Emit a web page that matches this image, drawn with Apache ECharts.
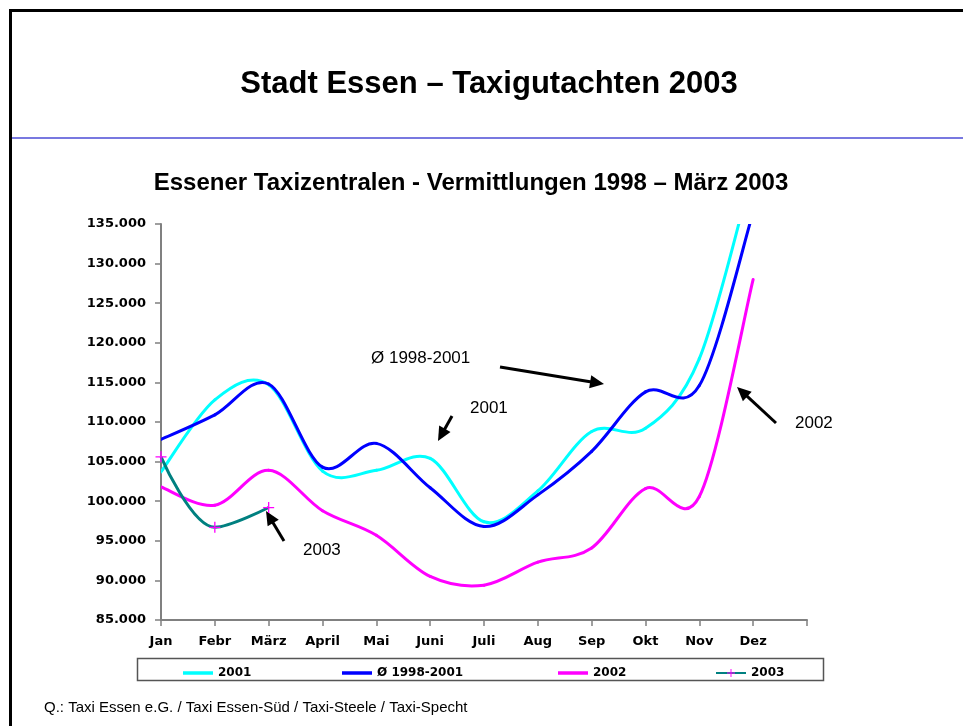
<!DOCTYPE html>
<html><head><meta charset="utf-8">
<script src="https://cdn.jsdelivr.net/npm/echarts@6/dist/echarts.min.js"></script>
<style>html,body{margin:0;padding:0;background:#fff}#c{width:963px;height:726px}</style>
</head><body><div id="c"></div>
<script>
// ---- data ----
const months = ['Jan','Febr','März','April','Mai','Juni','Juli','Aug','Sep','Okt','Nov','Dez',''];
const yMin = 85000, yMax = 135000, yStep = 5000;
const seriesNames = ['2001','Ø 1998-2001','2002','2003'];
const v2001 = [103700,112800,114700,103800,103900,105400,97400,101300,108800,109200,118000,142000];
const vAvg  = [107800,110900,114800,104300,107300,101700,96800,100800,106300,113800,114600,136500];
const v2002 = [101800,99500,103900,98800,95700,90500,89400,92300,94100,101600,100600,128000];
const v2003 = [105600,96700,99200];

const colors = ['#00FFFF','#0000FF','#FF00FF','#008080'];
const chart = echarts.init(document.getElementById('c'), null, {renderer:'canvas'});
const AX = '#808080';
const lblFont = {fontFamily:'DejaVu Sans', fontWeight:'bold', fontSize:13, color:'#000'};

function arrow(x1,y1,x2,y2){
  const dx=x2-x1, dy=y2-y1, L=Math.hypot(dx,dy), ux=dx/L, uy=dy/L;
  const hl=14, hw=6.5, bx=x2-ux*hl, by=y2-uy*hl;
  return [
    {type:'line', shape:{x1:x1,y1:y1,x2:bx+ux*3,y2:by+uy*3}, style:{stroke:'#000',lineWidth:3}},
    {type:'polygon', shape:{points:[[x2,y2],[bx-uy*hw,by+ux*hw],[bx+uy*hw,by-ux*hw]]}, style:{fill:'#000'}}
  ];
}
const annFont = 'normal 17px "Liberation Sans", Arial, sans-serif';
function txt(x,y,t,font,align){
  return {type:'text', x:x, y:y, style:{text:t, font:font, fill:'#000', textAlign:align||'left', textVerticalAlign:'middle'}};
}

const plusPath = 'path://M4.4,0H5.6V4.4H10V5.6H5.6V10H4.4V5.6H0V4.4H4.4Z';
const lineIcon = 'path://M0,0H30V3.5H0Z';

const graphics = [
  {type:'line', shape:{x1:10.5,y1:10.5,x2:963,y2:10.5}, style:{stroke:'#000',lineWidth:3}},
  {type:'line', shape:{x1:10.5,y1:9,x2:10.5,y2:726}, style:{stroke:'#000',lineWidth:3}},
  {type:'line', shape:{x1:12,y1:138,x2:963,y2:138}, style:{stroke:'#7878e0',lineWidth:2}},
  txt(489,84,'Stadt Essen – Taxigutachten 2003','bold 31px "Liberation Sans", Arial, sans-serif','center'),
  txt(471,183,'Essener Taxizentralen - Vermittlungen 1998 – März 2003','bold 24px "Liberation Sans", Arial, sans-serif','center'),
  {type:'rect', shape:{x:137.5,y:658.5,width:686,height:22}, style:{fill:'none',stroke:'#555',lineWidth:1.5}, z:-1},
  txt(371,358,'Ø 1998-2001',annFont),
  txt(470,408,'2001',annFont),
  txt(795,423,'2002',annFont),
  txt(303,550,'2003',annFont),
  txt(44,708,'Q.: Taxi Essen e.G. / Taxi Essen-Süd / Taxi-Steele / Taxi-Specht','normal 15px "Liberation Sans", Arial, sans-serif')
].concat(arrow(500,367,604,384), arrow(452,416,438,441), arrow(776,423,737,387), arrow(284,541,266,511));

// Excel-style smoothed line (Catmull-Rom Bezier through monthly points), positions from the axes
function smoothRender(color){
  return function(params, api){
    const i = params.dataIndexInside, n = params.dataInsideLength;
    if (i >= n - 1) return null;
    const P = k => { const kk = Math.max(0, Math.min(n - 1, k)); return api.coord([api.value(0, kk), api.value(1, kk)]); };
    const p0 = P(i - 1), p1 = P(i), p2 = P(i + 1), p3 = P(i + 2);
    return {
      type:'bezierCurve',
      shape:{
        x1:p1[0], y1:p1[1], x2:p2[0], y2:p2[1],
        cpx1:p1[0] + (p2[0] - p0[0]) / 6, cpy1:p1[1] + (p2[1] - p0[1]) / 6,
        cpx2:p2[0] - (p3[0] - p1[0]) / 6, cpy2:p2[1] - (p3[1] - p1[1]) / 6
      },
      style:{stroke:color, lineWidth:3, fill:'none', lineCap:'round'}
    };
  };
}
function customSeries(idx, values){
  return {
    name:seriesNames[idx], type:'custom', clip:true,
    data:values.map((v, i) => [i, v]), encode:{x:0, y:1},
    itemStyle:{color:colors[idx]},
    renderItem:smoothRender(colors[idx])
  };
}

const legendLefts = [178, 337, 553, 710];
const legendText = {fontFamily:'DejaVu Sans', fontWeight:'bold', fontSize:12, color:'#000'};
const legends = seriesNames.map((nm, i) => ({
  left:legendLefts[i], top:662, itemWidth:30, itemHeight:i === 3 ? 10 : 3.5, itemGap:0,
  textStyle:legendText,
  data:[i === 3 ? {name:nm} : {name:nm, icon:lineIcon, itemStyle:{color:colors[i]}}]
}));

chart.setOption({
  animation:false,
  backgroundColor:'#fff',
  grid:{left:161, right:156, top:224, bottom:106, containLabel:false},
  xAxis:{
    type:'category', data:months, boundaryGap:false,
    axisLine:{lineStyle:{color:AX,width:2}},
    axisTick:{show:true, length:6, lineStyle:{color:AX,width:1.5}, interval:0},
    axisLabel:Object.assign({interval:0, margin:15}, lblFont),
    splitLine:{show:false}
  },
  yAxis:{
    type:'value', min:yMin, max:yMax, interval:yStep,
    axisLine:{show:true, lineStyle:{color:AX,width:2}},
    axisTick:{show:true, length:6, lineStyle:{color:AX,width:1.5}},
    axisLabel:Object.assign({margin:15, formatter:v => (v/1000)+'.000'}, lblFont),
    splitLine:{show:false}
  },
  legend:legends,
  graphic:graphics,
  series:[
    customSeries(0, v2001),
    customSeries(1, vAvg),
    customSeries(2, v2002),
    {name:seriesNames[3], type:'line', data:v2003, smooth:0.35, symbol:plusPath, symbolSize:11, showSymbol:true,
     lineStyle:{color:colors[3], width:3}, itemStyle:{color:'#FF00FF'}, clip:true}
  ]
});
</script></body></html>
